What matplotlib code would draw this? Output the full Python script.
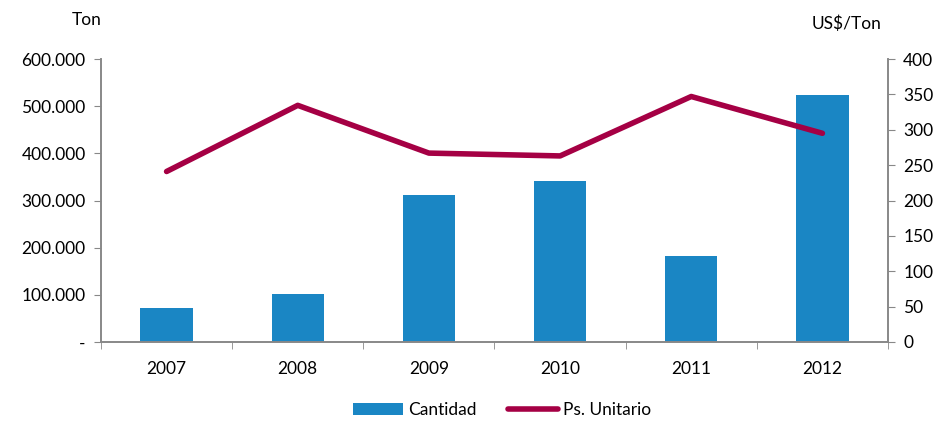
import matplotlib.pyplot as plt
import matplotlib.ticker as mticker

plt.rcParams['font.family'] = ['Lato', 'DejaVu Sans']

years = ['2007', '2008', '2009', '2010', '2011', '2012']
cantidad = [71400, 101800, 312000, 342000, 182300, 524000]
precio = [241, 334.5, 267, 263, 347, 295]

fig = plt.figure(figsize=(9.42, 4.21), dpi=100)
ax = fig.add_axes([101 / 942, 1 - 342 / 421, 787 / 942, 283 / 421])
ax2 = ax.twinx()

x = range(len(years))
ax.bar(x, cantidad, width=0.4, color='#1A86C4', label='Cantidad', zorder=2)
ax2.plot(x, precio, color='#A50044', linewidth=4, solid_capstyle='round',
         label='Ps. Unitario', zorder=3)

ax.set_xlim(-0.5, 5.5)
ax.set_ylim(0, 600000)
ax2.set_ylim(0, 400)
ax.set_yticks(range(0, 600001, 100000))
ax2.set_yticks(range(0, 401, 50))


def miles(v, pos):
    if v == 0:
        return '-'
    return f'{int(v):,}'.replace(',', '.')


ax.yaxis.set_major_formatter(mticker.FuncFormatter(miles))
ax.set_xticks(list(x))
ax.set_xticklabels(years)
ax.set_xticks([i - 0.5 for i in range(7)], minor=True)
ax.tick_params(axis='x', which='major', length=0, pad=14, labelsize=12.5)
ax.tick_params(axis='x', which='minor', length=5, color='#888888', direction='out')
ax.tick_params(axis='y', length=5, color='#888888', labelsize=12.5, pad=6)
ax2.tick_params(axis='y', length=5, color='#888888', labelsize=12.5, pad=6)

for a in (ax, ax2):
    a.spines['top'].set_visible(False)
    for s in ('left', 'right', 'bottom'):
        a.spines[s].set_color('#888888')
        a.spines[s].set_linewidth(1.2)
ax2.set_zorder(ax.get_zorder() + 1)
ax2.patch.set_visible(False)

fig.text(72 / 942, 1 - 20 / 421, 'Ton', fontsize=12.5, ha='left', va='center')
fig.text(812 / 942, 1 - 24 / 421, 'US$/Ton', fontsize=12.5, ha='left', va='center')

h1, l1 = ax.get_legend_handles_labels()
h2, l2 = ax2.get_legend_handles_labels()
fig.legend(h1 + h2, l1 + l2, loc='center', bbox_to_anchor=(0.533, 1 - 410 / 421),
           ncol=2, frameon=False, fontsize=12.5, handlelength=2.9, handletextpad=0.3,
           columnspacing=1.8)

fig.savefig('out.png', dpi=100)
